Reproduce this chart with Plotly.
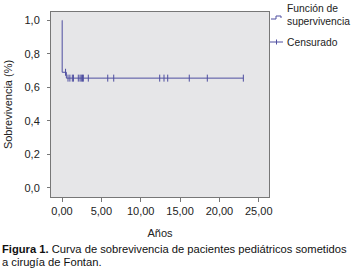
import plotly.graph_objects as go

# Kaplan-Meier step curve
step_time = [0.0, 0.02, 0.55, 23.04]
step_surv = [1.0, 0.69, 0.655, 0.655]

# Censored observations
cens_time = [0.45, 0.76, 1.0, 1.31, 1.45, 2.07, 2.29, 2.45, 2.6, 2.71, 3.34,
             5.81, 6.57, 12.41, 12.96, 13.43, 16.17, 18.46, 23.04]
cens_surv = [0.69] + [0.655] * 18

x_ticks = [0, 5, 10, 15, 20, 25]
y_ticks = [0.0, 0.2, 0.4, 0.6, 0.8, 1.0]

W, H = 351, 274
L, R, T, B = 51, 82, 12, 77
PW = W - L - R
PH = H - T - B

def px(x):
    return (x - L) / PW

def py(y):
    return (H - B - y) / PH

LINE = "rgb(78,78,160)"
FONT = "Liberation Sans"

fig = go.Figure()
fig.add_trace(go.Scatter(x=step_time, y=step_surv, mode="lines",
                         line=dict(shape="hv", color=LINE, width=1),
                         showlegend=False, hoverinfo="skip"))
fig.add_trace(go.Scatter(x=cens_time, y=cens_surv, mode="markers",
                         marker=dict(symbol="line-ns", size=5,
                                     line=dict(color=LINE, width=1)),
                         showlegend=False, hoverinfo="skip"))

fig.update_layout(
    template="none",
    width=W, height=H,
    margin=dict(l=L, r=R, t=T, b=B, pad=0, autoexpand=False),
    paper_bgcolor="white",
    plot_bgcolor="rgb(230,230,232)",
    separators=",.",
    font=dict(family=FONT, size=11, color="#222"),
    showlegend=False,
)
fig.update_xaxes(range=[-1.4, 26.3], tickvals=x_ticks, tickformat=".2f",
                 automargin=False,
                 showgrid=False, zeroline=False, showline=True, mirror=True,
                 linecolor="#777", linewidth=1, ticks="outside", ticklen=4,
                 tickcolor="#777",
                 title=dict(text="Años", font=dict(size=11), standoff=13))
fig.update_yaxes(range=[-0.055, 1.05], tickvals=y_ticks, tickformat=".1f",
                 automargin=False, ticklabelstandoff=5,
                 showgrid=False, zeroline=False, showline=True, mirror=True,
                 linecolor="#777", linewidth=1, ticks="outside", ticklen=3,
                 tickcolor="#777",
                 title=dict(text="Sobrevivencia (%)", font=dict(size=11), standoff=9))

# Legend (text + glyphs)
fig.add_annotation(xref="paper", yref="paper", x=px(285), y=py(15), text="Función de<br>supervivencia",
                   showarrow=False, xanchor="left", yanchor="middle", align="left",
                   font=dict(size=10.3, color="#222"))
fig.add_annotation(xref="paper", yref="paper", x=px(285), y=py(42), text="Censurado",
                   showarrow=False, xanchor="left", yanchor="middle", align="left",
                   font=dict(size=10.3, color="#222"))
fig.add_shape(type="path", xref="paper", yref="paper",
              path=f"M {px(271)} {py(19)} L {px(276)} {py(19)} L {px(276)} {py(16)} L {px(281)} {py(16)} L {px(281)} {py(18)}",
              line=dict(color=LINE, width=1))
fig.add_shape(type="line", xref="paper", yref="paper", x0=px(270), x1=px(283), y0=py(42), y1=py(42),
              line=dict(color=LINE, width=1))
fig.add_shape(type="line", xref="paper", yref="paper", x0=px(276.5), x1=px(276.5), y0=py(39.5), y1=py(44.5),
              line=dict(color=LINE, width=1))

# Caption
fig.add_annotation(xref="paper", yref="paper", x=px(0), y=py(249),
                   text="<b>Figura 1.</b> Curva de sobrevivencia de pacientes pediátricos sometidos",
                   showarrow=False, xanchor="left", yanchor="middle", align="left",
                   font=dict(size=11.2, color="#111"))
fig.add_annotation(xref="paper", yref="paper", x=px(0), y=py(262),
                   text="a cirugía de Fontan.",
                   showarrow=False, xanchor="left", yanchor="middle", align="left",
                   font=dict(size=11.2, color="#111"))

fig.write_html("out.html", config={"displayModeBar": False},
               post_script="document.body.style.margin='0';document.body.style.padding='0';")
